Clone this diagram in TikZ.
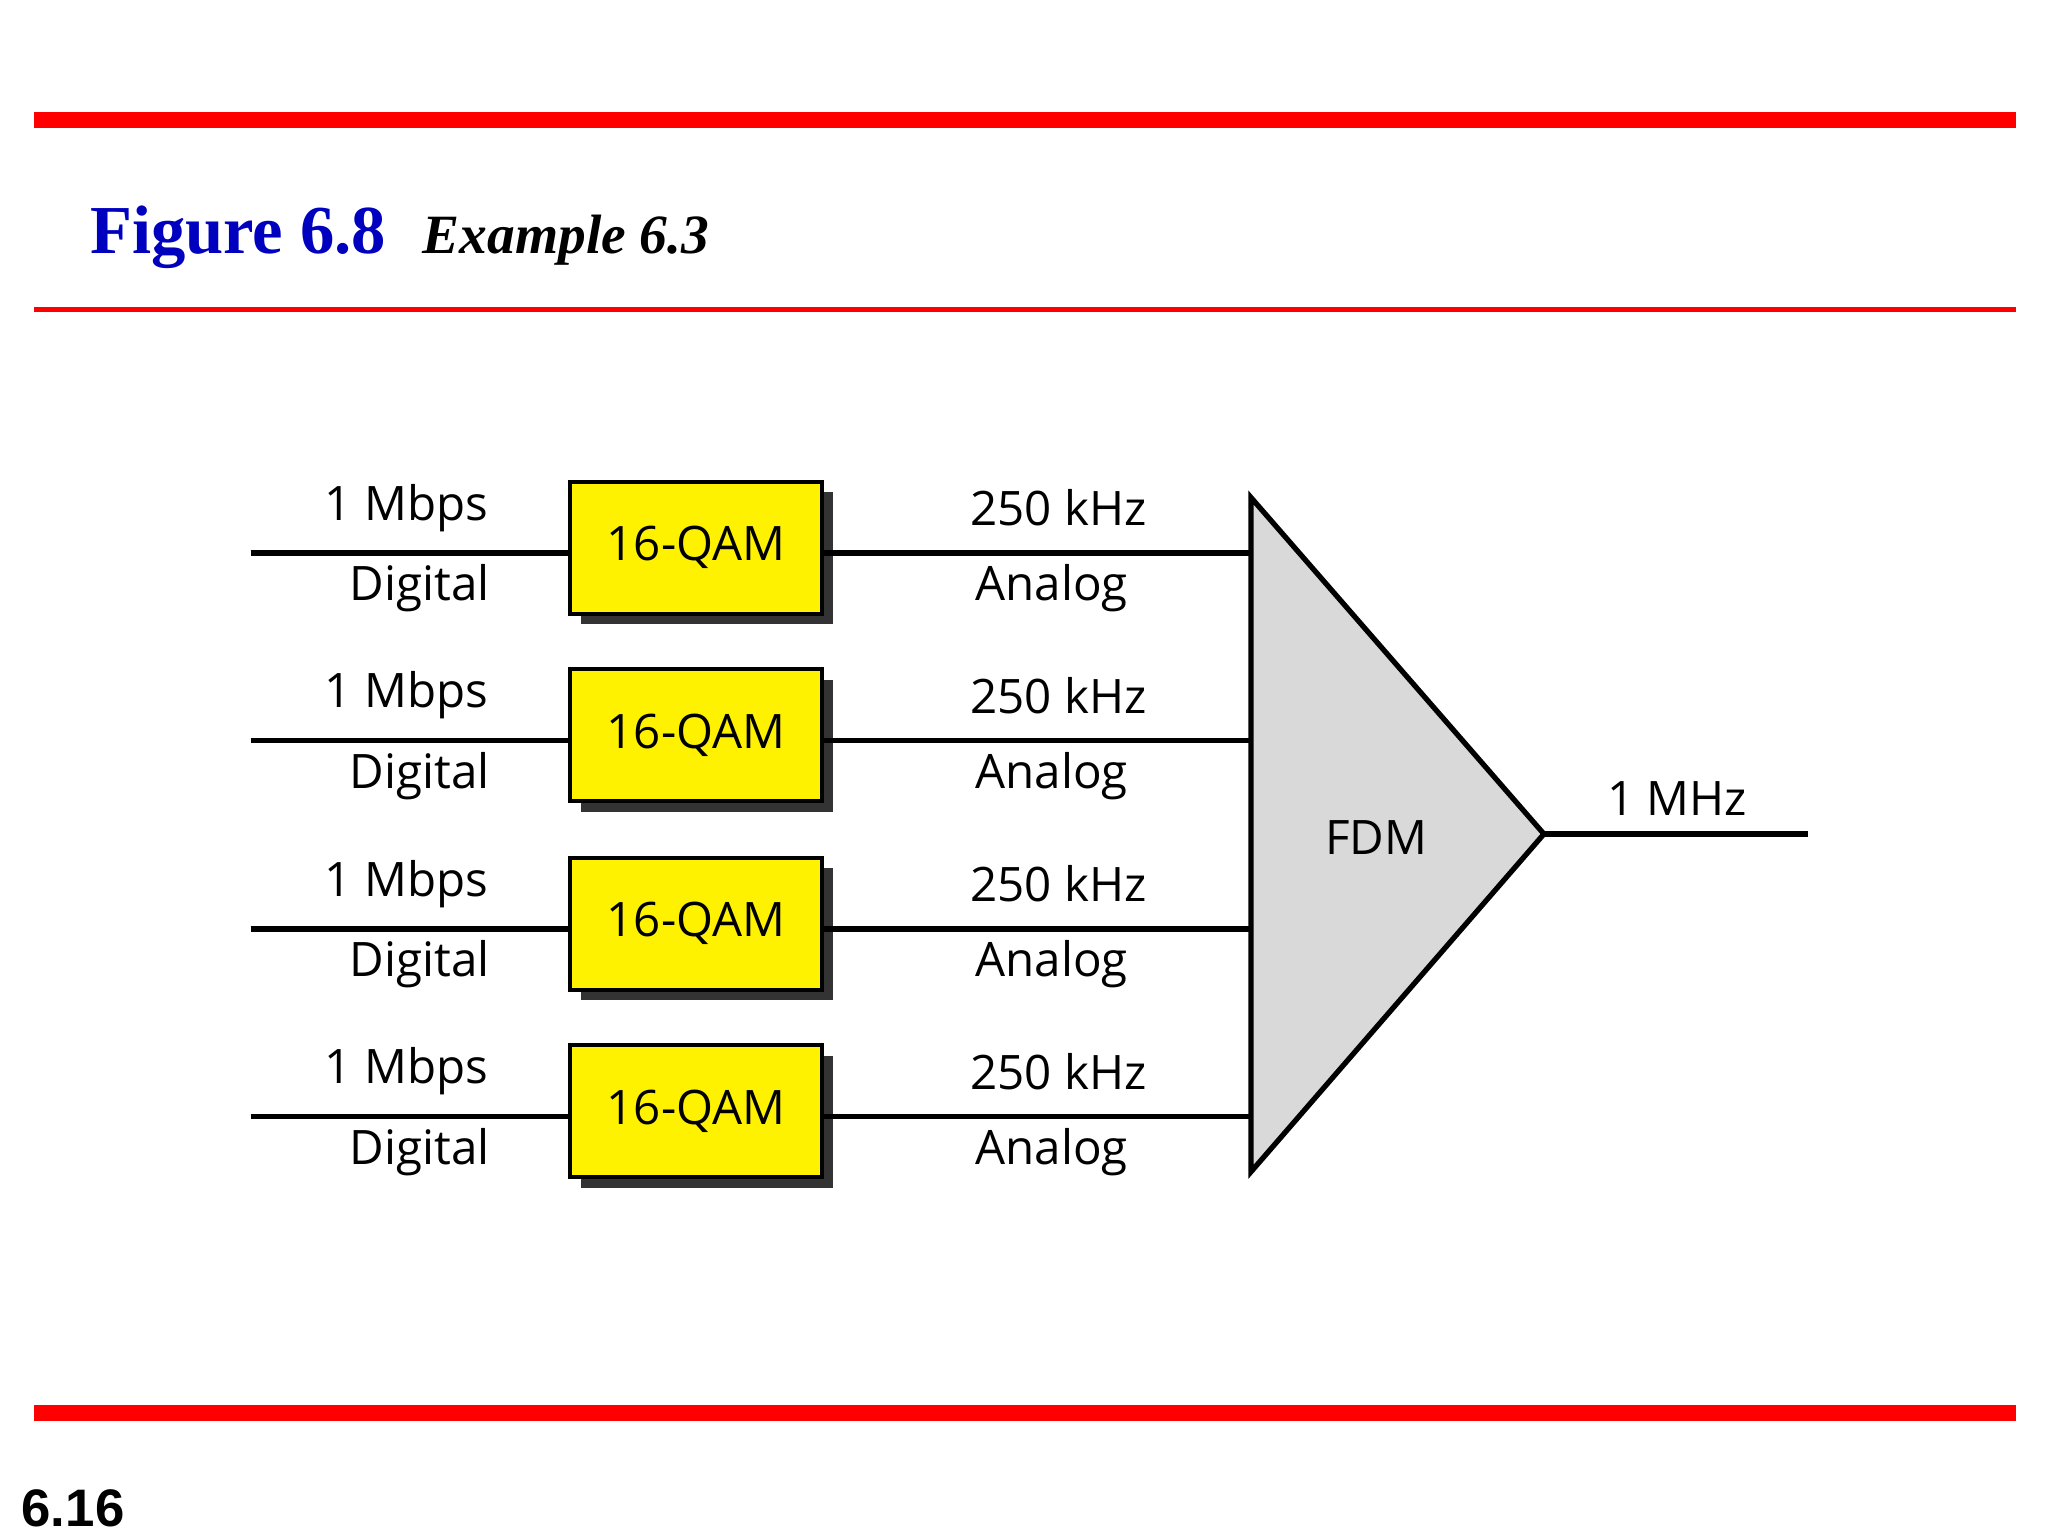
\documentclass[tikz,border=0pt]{standalone}
\usepackage{fontspec}
\setmainfont{Liberation Serif}
\newfontfamily\diag{Open Sans}
\newfontfamily\arialf{Liberation Sans}
\begin{document}
\begin{tikzpicture}[x=0.5pt,y=-0.5pt,
  lbl/.style={font=\diag\fontsize{18}{21}\selectfont},
  qam/.style={draw=black,line width=1.5pt,fill=yellow,minimum width=95.5pt,minimum height=50pt,inner sep=0pt,font=\diag\fontsize{18}{21}\selectfont},
  sig/.style={line width=2pt}]
\useasboundingbox (0,0) rectangle (1552,1164);
\fill[red] (26,85) rectangle (1528,97);
\fill[red] (26,233) rectangle (1528,236.5);
\fill[red] (26,1065) rectangle (1528,1077);
\node[anchor=base west,inner sep=0pt,text=blue!75!black,font=\bfseries\fontsize{26}{30}\selectfont] (fig) at (68,192) {Figure 6.8};
\node[anchor=base west,inner sep=0pt,font=\bfseries\itshape\fontsize{21}{25}\selectfont] (ex) at (320,192) {Example 6.3};
\node[anchor=base west,inner sep=0pt,font=\arialf\bfseries\fontsize{20}{24}\selectfont] (pg) at (16,1157) {6.16};
% FDM triangle
\coordinate (t1) at (948,377);
\coordinate (t2) at (948,888);
\coordinate (t3) at (1170,632);
\draw[line width=2pt,fill=black!15,line join=miter] (t1) -- (t3) -- (t2) -- cycle;
\node[lbl] (fdm) at (1043,635) {FDM};
\coordinate (out) at (1370,632);
\draw[sig] (t3) -- (out);
\node[lbl] (mhz) at (1271,605) {1 MHz};
\foreach \i/\y in {1/419,2/561,3/704,4/846}{
  \fill[black!80] (440,\y-46) rectangle (631,\y+54);
  \node[qam] (q\i) at (527.5,\y-4) {16-QAM};
  \coordinate (in\i) at (190,\y);
  \coordinate (f\i) at (948,\y);
  \draw[sig] (in\i) -- (q\i.west |- in\i);
  \draw[sig] (q\i.east |- in\i) -- (f\i);
  \node[lbl,anchor=east] (m\i) at (377,\y-34) {1 Mbps};
  \node[lbl] (d\i) at (318,\y+27) {Digital};
  \node[lbl] (k\i) at (802,\y-34) {250 kHz};
  \node[lbl] (a\i) at (797,\y+27) {Analog};
}
\end{tikzpicture}
\end{document}
